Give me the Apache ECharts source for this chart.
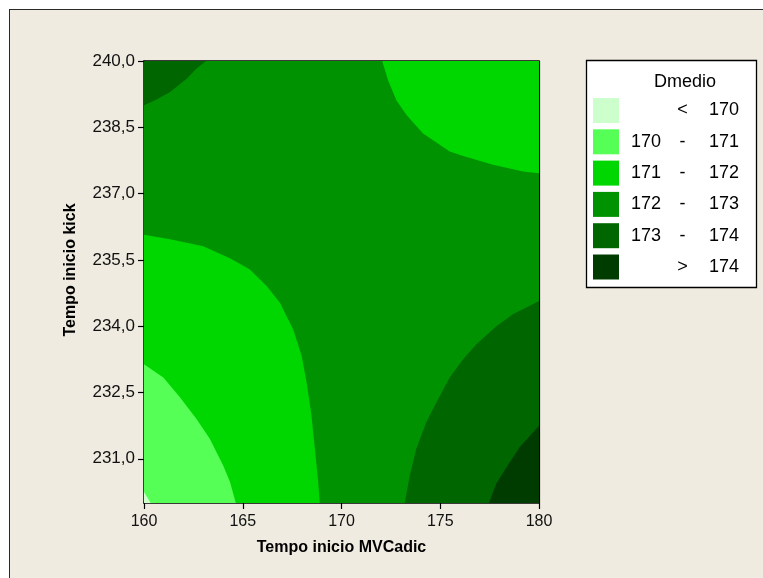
<!DOCTYPE html>
<html><head><meta charset="utf-8">
<script src="https://cdn.jsdelivr.net/npm/echarts@6/dist/echarts.min.js"></script>
<style>
html,body{margin:0;padding:0;background:#fff;}
#wrap{position:relative;width:763px;height:578px;overflow:hidden;background:#fff;}
#frame{position:absolute;left:9px;top:9px;width:800px;height:600px;background:#efebe1;border-top:1.5px solid #2a2a2a;border-left:1.5px solid #2a2a2a;}
#chart{position:absolute;left:0;top:0;width:763px;height:578px;}
</style></head>
<body>
<div id="wrap"><div id="frame"></div><div id="chart"></div></div>
<script>
// axis ticks
const xTicks = [160, 165, 170, 175, 180];
const yTicks = [231, 232.5, 234, 235.5, 237, 238.5, 240];
const xRange = [160, 180];
const yRange = [230, 240];

// contour bands
const bandNames = ['< 170', '170 - 171', '171 - 172', '172 - 173', '173 - 174', '> 174'];
const bandColors = ['#ccffcc', '#55ff55', '#00d600', '#009200', '#006600', '#003c00'];

// contour boundaries, [x, y] in data units
const c173UpperLeft = [[163.14,240],[162.66,239.83],[162.16,239.60],[161.32,239.30],[160.64,239.13],[160,239.0]];
const c172UpperRight = [[172.06,240],[172.36,239.56],[172.78,239.11],[173.29,238.78],[174.13,238.36],[175.48,237.95],[176.16,237.85],[177.67,237.65],[179.19,237.50],[180,237.46]];
const c172Left = [[160,236.07],[161.32,235.97],[163.00,235.81],[164.35,235.54],[165.36,235.28],[166.21,234.91],[166.88,234.53],[167.55,233.93],[167.98,233.33],[168.23,232.73],[168.48,231.98],[168.65,231.23],[168.82,230.48],[168.90,230]];
const c171LowerLeft = [[160,233.14],[160.98,232.84],[161.82,232.39],[162.66,231.90],[163.34,231.45],[164.01,230.85],[164.35,230.48],[164.65,230]];
const c170LowerLeft = [[160,230.25],[160.34,230]];
const c173LowerRight = [[180,234.57],[178.68,234.27],[177.84,234.00],[176.83,233.59],[176.16,233.25],[175.48,232.84],[174.81,232.28],[174.30,231.83],[173.79,231.23],[173.46,230.62],[173.20,230]];
const c174LowerRight = [[180,231.75],[179.02,231.26],[178.26,230.74],[177.84,230.44],[177.47,230]];

const plotArea = [[xRange[0],yRange[0]],[xRange[1],yRange[0]],[xRange[1],yRange[1]],[xRange[0],yRange[1]]];
const withCorner = (line, corner) => line.concat([corner]);

// regions for each band, drawn in this order
const bandRegions = [
  {band: 3, polys: [plotArea]},
  {band: 4, polys: [withCorner(c173UpperLeft, [160,240])]},
  {band: 2, polys: [withCorner(c172UpperRight, [180,240]), withCorner(c172Left, [160,230])]},
  {band: 1, polys: [withCorner(c171LowerLeft, [160,230])]},
  {band: 0, polys: [withCorner(c170LowerLeft, [160,230])]},
  {band: 4, polys: [withCorner(c173LowerRight, [180,230])]},
  {band: 5, polys: [withCorner(c174LowerRight, [180,230])]}
];

const fmt = v => v.toFixed(1).replace('.', ',');

const series = bandRegions.map((r, k) => {
  const color = bandColors[r.band];
  return {
    type: 'custom',
    name: bandNames[r.band],
    coordinateSystem: 'cartesian2d',
    silent: true,
    clip: true,
    z: 2 + k,
    itemStyle: {color: color},
    data: r.polys.map(p => p[0]),
    renderItem: function (params, api) {
      const poly = r.polys[params.dataIndex];
      return {
        type: 'polygon',
        shape: {points: poly.map(pt => api.coord(pt))},
        style: {fill: color, stroke: null}
      };
    }
  };
});

const chart = echarts.init(document.getElementById('chart'), null, {renderer: 'canvas'});
const font = 'Liberation Sans, Arial, sans-serif';
chart.setOption({
  backgroundColor: 'transparent',
  animation: false,
  textStyle: {fontFamily: font},
  grid: {left: 144, top: 61, width: 395, height: 442, show: false},
  xAxis: [{
    type: 'value', min: xRange[0], max: xRange[1], interval: 5,
    position: 'bottom',
    axisLine: {show: true, onZero: false, lineStyle: {color: '#000', width: 1.5}},
    axisTick: {show: true, length: 6, lineStyle: {color: '#000', width: 1.2}},
    axisLabel: {color: '#111', fontSize: 16, fontFamily: font, margin: 11},
    splitLine: {show: false},
    name: 'Tempo inicio MVCadic', nameLocation: 'middle', nameGap: 37,
    nameTextStyle: {color: '#000', fontSize: 16, fontWeight: 'bold', fontFamily: font}
  }, {
    type: 'value', min: xRange[0], max: xRange[1], position: 'top',
    axisLine: {show: true, onZero: false, lineStyle: {color: '#000', width: 1.5}},
    axisTick: {show: false}, axisLabel: {show: false}, splitLine: {show: false}
  }],
  yAxis: [{
    type: 'value', min: yRange[0], max: yRange[1],
    axisLine: {show: true, onZero: false, lineStyle: {color: '#000', width: 1.5}},
    axisTick: {show: true, length: 6, customValues: yTicks, lineStyle: {color: '#000', width: 1.2}},
    axisLabel: {color: '#111', fontSize: 17, fontFamily: font, margin: 9, customValues: yTicks, formatter: fmt},
    splitLine: {show: false}
  }, {
    type: 'value', min: yRange[0], max: yRange[1], position: 'right',
    axisLine: {show: true, onZero: false, lineStyle: {color: '#000', width: 1.2}},
    axisTick: {show: false}, axisLabel: {show: false}, splitLine: {show: false}
  }],
  legend: {
    data: bandNames,
    orient: 'vertical', left: 588, top: 93,
    itemWidth: 26, itemHeight: 25, itemGap: 6.3,
    icon: 'rect', selectedMode: false,
    formatter: function (name) {
      const parts = name.split(' ');
      if (parts.length === 2) return '{a|}{b|' + parts[0] + '}{c|' + parts[1] + '}';
      return '{a|' + parts[0] + '}{b|-}{c|' + parts[2] + '}';
    },
    textStyle: {
      color: '#000', fontSize: 18, fontFamily: font,
      rich: {
        a: {width: 44, align: 'right', fontSize: 18, fontFamily: font, color: '#000'},
        b: {width: 29, align: 'center', fontSize: 18, fontFamily: font, color: '#000'},
        c: {width: 42, align: 'right', fontSize: 18, fontFamily: font, color: '#000'}
      }
    }
  },
  graphic: [
    {type: 'rect', z: 0, shape: {x: 586.5, y: 60.5, width: 170, height: 227},
     style: {fill: '#fff', stroke: '#000', lineWidth: 1.3}},
    {type: 'text', z: 1, x: 685, y: 82,
     style: {text: 'Dmedio', fill: '#000', font: '18px ' + font, textAlign: 'center', textVerticalAlign: 'middle'}},
    {type: 'text', z: 1, x: 71, y: 270, rotation: Math.PI / 2,
     style: {text: 'Tempo inicio kick', fill: '#000', font: 'bold 16px ' + font, textAlign: 'center', textVerticalAlign: 'middle'}}
  ],
  series: series
});
</script>
</body></html>
